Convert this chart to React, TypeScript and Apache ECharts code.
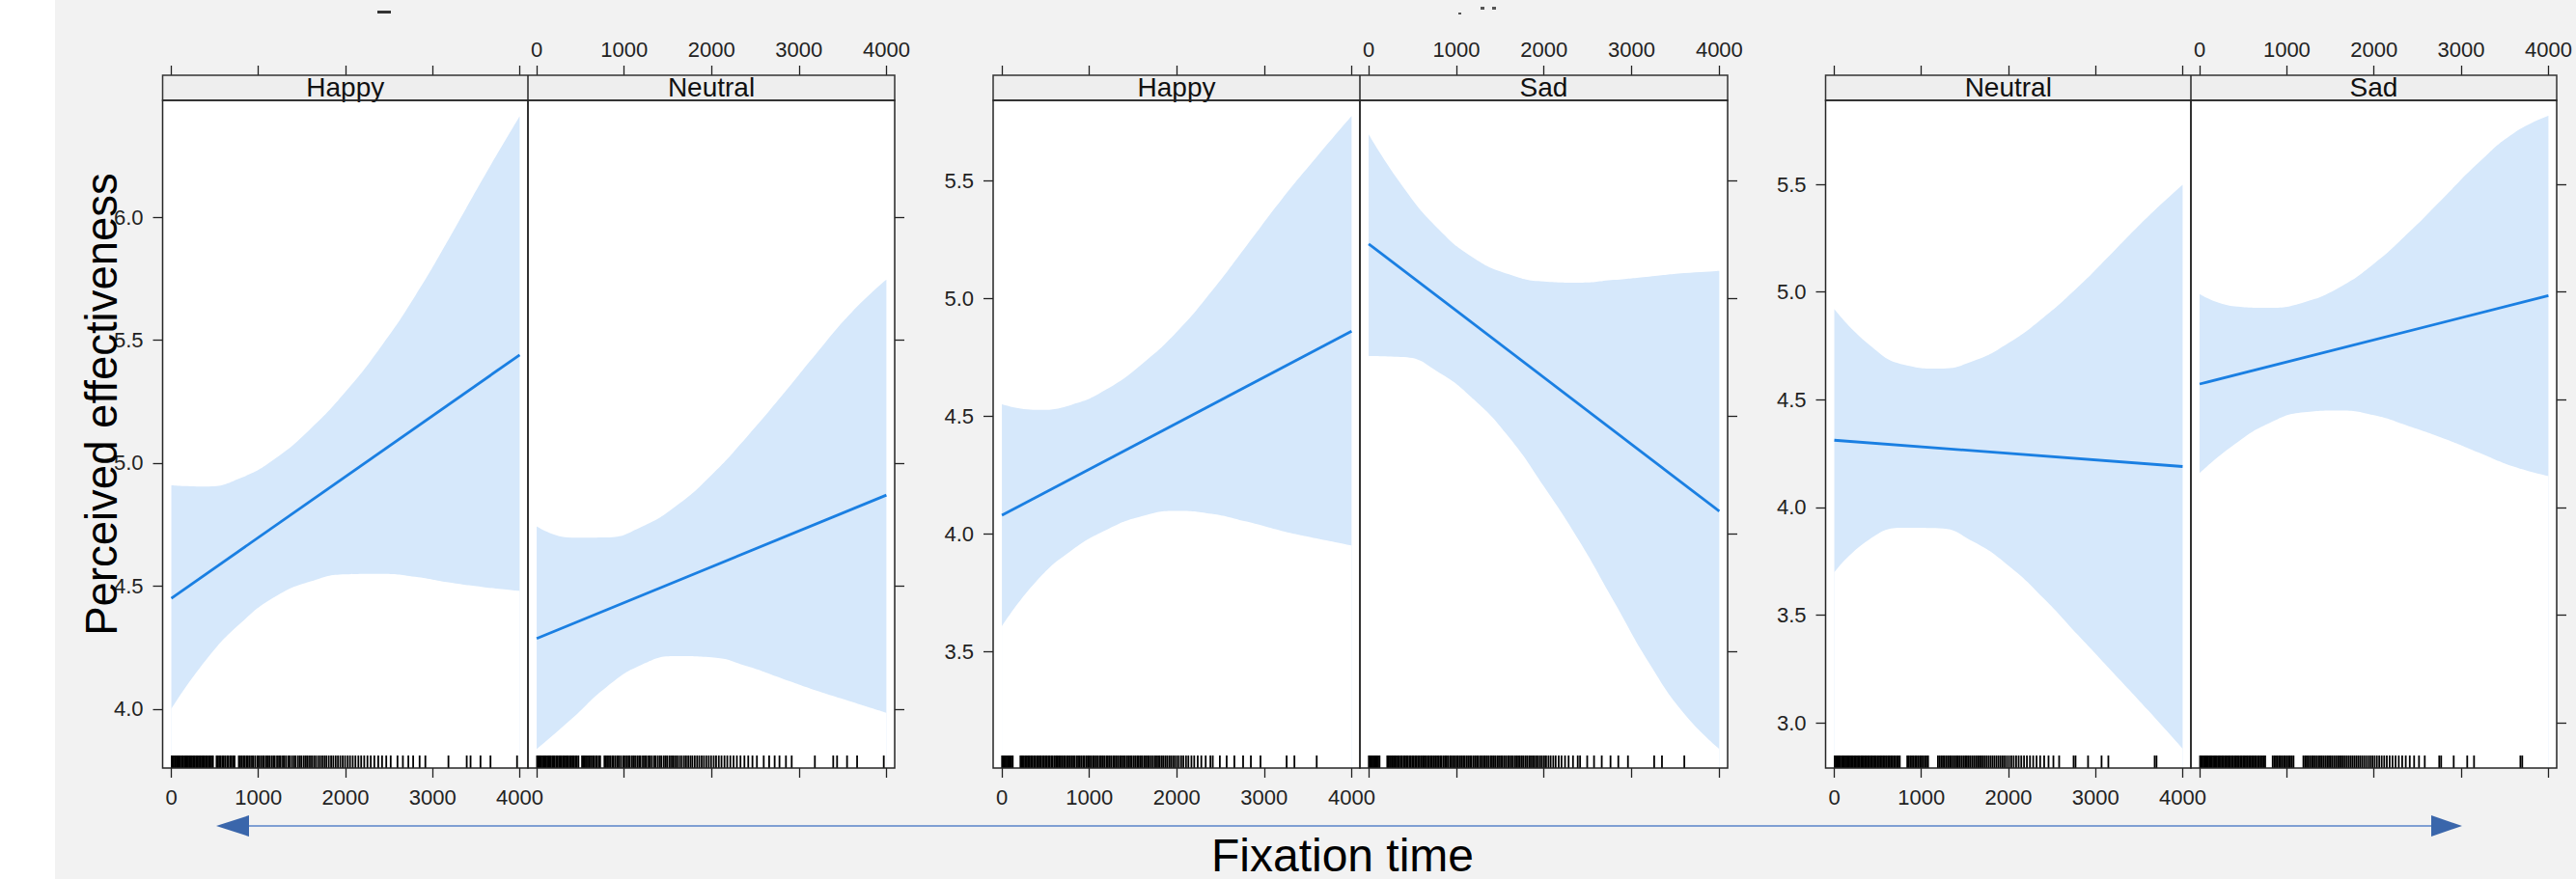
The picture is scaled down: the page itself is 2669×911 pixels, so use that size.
import React, { useEffect, useRef } from "react";
import * as echarts from "echarts";

// ---------------- data ----------------
const X_TICKS = [0, 1000, 2000, 3000, 4000];
const X_GRID = [0, 400, 800, 1200, 1600, 2000, 2400, 2800, 3200, 3600, 4000];
const X_FIT = [0, 4000];

const P1_Y_TICKS = [4.0, 4.5, 5.0, 5.5, 6.0];
const P2_Y_TICKS = [3.5, 4.0, 4.5, 5.0, 5.5];
const P3_Y_TICKS = [3.0, 3.5, 4.0, 4.5, 5.0, 5.5];

// Panel 1 : Happy / Neutral
const P1_HAPPY_FIT = [4.45, 5.44];
const P1_HAPPY_UPPER = [4.91, 4.905, 4.94, 5.02, 5.14, 5.29, 5.47, 5.68, 5.92, 6.17, 6.41];
const P1_HAPPY_LOWER = [4.0, 4.2, 4.35, 4.458, 4.519, 4.548, 4.55, 4.538, 4.514, 4.495, 4.48];
const P1_NEUTRAL_FIT = [4.287, 4.87];
const P1_NEUTRAL_UPPER = [4.743, 4.697, 4.698, 4.741, 4.827, 4.952, 5.105, 5.272, 5.446, 5.612, 5.746];
const P1_NEUTRAL_LOWER = [3.837, 3.96, 4.09, 4.18, 4.215, 4.21, 4.175, 4.125, 4.075, 4.03, 3.985];

// Panel 2 : Happy / Sad
const P2_HAPPY_FIT = [4.078, 4.86];
const P2_HAPPY_UPPER = [4.55, 4.526, 4.548, 4.614, 4.72, 4.857, 5.03, 5.224, 5.42, 5.6, 5.774];
const P2_HAPPY_LOWER = [3.606, 3.8, 3.93, 4.017, 4.074, 4.097, 4.084, 4.051, 4.012, 3.98, 3.95];
const P2_SAD_FIT = [5.231, 4.095];
const P2_SAD_UPPER = [5.696, 5.469, 5.293, 5.171, 5.102, 5.071, 5.066, 5.078, 5.092, 5.107, 5.116];
const P2_SAD_LOWER = [4.755, 4.75, 4.685, 4.57, 4.41, 4.2, 3.97, 3.71, 3.45, 3.235, 3.085];

// Panel 3 : Neutral / Sad
const P3_NEUTRAL_FIT = [4.312, 4.19];
const P3_NEUTRAL_UPPER = [4.921, 4.756, 4.663, 4.645, 4.68, 4.763, 4.881, 5.024, 5.186, 5.349, 5.498];
const P3_NEUTRAL_LOWER = [3.699, 3.851, 3.905, 3.903, 3.84, 3.73, 3.58, 3.407, 3.234, 3.06, 2.88];
const P3_SAD_FIT = [4.573, 4.983];
const P3_SAD_UPPER = [4.991, 4.934, 4.927, 4.953, 5.021, 5.132, 5.277, 5.439, 5.601, 5.737, 5.818];
const P3_SAD_LOWER = [4.16, 4.293, 4.392, 4.442, 4.45, 4.428, 4.377, 4.32, 4.255, 4.19, 4.146];

// rug (fixation times)
const P1_RUG = [4, 15, 27, 41, 50, 66, 79, 93, 104, 121, 133, 150, 162, 179, 193, 207, 226, 238, 255, 268, 284, 301, 316, 331, 349, 362, 380, 396, 411, 428, 446, 460, 478, 519, 532, 549, 563, 584, 600, 618, 640, 655, 676, 691, 712, 726, 775, 790, 806, 827, 845, 866, 880, 902, 925, 941, 963, 988, 1004, 1027, 1049, 1066, 1090, 1107, 1126, 1150, 1171, 1188, 1214, 1236, 1255, 1280, 1298, 1319, 1345, 1362, 1387, 1410, 1428, 1455, 1477, 1496, 1522, 1545, 1566, 1590, 1613, 1638, 1660, 1686, 1709, 1734, 1759, 1781, 1808, 1835, 1860, 1887, 1913, 1940, 1968, 1995, 2025, 2052, 2083, 2114, 2148, 2180, 2215, 2252, 2290, 2331, 2376, 2420, 2468, 2519, 2597, 2659, 2722, 2777, 2851, 2917, 3182, 3392, 3436, 3550, 3665, 3970];
const P2_RUG = [2, 14, 31, 43, 55, 71, 82, 97, 109, 124, 212, 224, 241, 253, 273, 286, 302, 318, 335, 349, 367, 380, 399, 415, 431, 447, 466, 480, 498, 514, 532, 548, 567, 582, 603, 619, 637, 652, 672, 690, 708, 725, 745, 761, 781, 799, 817, 833, 855, 872, 890, 908, 929, 945, 966, 983, 1003, 1021, 1041, 1058, 1079, 1097, 1118, 1136, 1156, 1173, 1195, 1213, 1233, 1251, 1273, 1290, 1311, 1330, 1350, 1368, 1390, 1408, 1429, 1447, 1468, 1486, 1508, 1526, 1547, 1566, 1588, 1605, 1627, 1645, 1667, 1685, 1706, 1726, 1748, 1766, 1788, 1807, 1830, 1849, 1871, 1891, 1914, 1934, 1957, 1978, 2002, 2024, 2051, 2076, 2106, 2133, 2168, 2200, 2240, 2281, 2331, 2385, 2412, 2493, 2571, 2659, 2759, 2848, 2958, 3257, 3346, 3601];
const P3_RUG = [5, 17, 29, 44, 56, 69, 85, 98, 112, 127, 139, 155, 170, 183, 198, 214, 229, 243, 260, 274, 290, 306, 321, 337, 352, 369, 384, 401, 417, 432, 449, 466, 481, 499, 515, 531, 548, 565, 581, 598, 616, 632, 649, 667, 684, 701, 719, 736, 752, 838, 856, 874, 892, 910, 928, 946, 965, 983, 1002, 1020, 1039, 1058, 1077, 1190, 1209, 1228, 1247, 1266, 1286, 1305, 1325, 1344, 1364, 1383, 1403, 1423, 1443, 1463, 1483, 1503, 1523, 1544, 1564, 1585, 1605, 1626, 1647, 1668, 1689, 1710, 1731, 1752, 1774, 1796, 1818, 1840, 1863, 1886, 1909, 1933, 1957, 1982, 2007, 2033, 2060, 2088, 2117, 2147, 2179, 2212, 2247, 2284, 2323, 2364, 2410, 2460, 2516, 2582, 2748, 2770, 2914, 3069, 3147, 3679, 3700];

// ---------------- layout & style ----------------
const FONT = "'Liberation Sans', Arial, sans-serif";
const BAND = "#d6e8fb";
const LINE = "#1a7fe2";
const INK = "#222222";
const PANEL_TOP = 104;
const PANEL_H = 692;
const STRIP_TOP = 78;
const X_MIN = -100;
const X_MAX = 4095;
const SMOOTH = 0.5;

const SUBPANELS = [
  { name: "Happy", left: 168.5, width: 378.5, side: "left", yMin: 3.76, yMax: 6.475, yTicks: P1_Y_TICKS, fit: P1_HAPPY_FIT, upper: P1_HAPPY_UPPER, lower: P1_HAPPY_LOWER, rug: P1_RUG },
  { name: "Neutral", left: 547, width: 380, side: "right", yMin: 3.76, yMax: 6.475, yTicks: P1_Y_TICKS, fit: P1_NEUTRAL_FIT, upper: P1_NEUTRAL_UPPER, lower: P1_NEUTRAL_LOWER, rug: P1_RUG },
  { name: "Happy", left: 1029, width: 380, side: "left", yMin: 3.004, yMax: 5.841, yTicks: P2_Y_TICKS, fit: P2_HAPPY_FIT, upper: P2_HAPPY_UPPER, lower: P2_HAPPY_LOWER, rug: P2_RUG },
  { name: "Sad", left: 1409, width: 381, side: "right", yMin: 3.004, yMax: 5.841, yTicks: P2_Y_TICKS, fit: P2_SAD_FIT, upper: P2_SAD_UPPER, lower: P2_SAD_LOWER, rug: P2_RUG },
  { name: "Neutral", left: 1891.5, width: 378.5, side: "left", yMin: 2.79, yMax: 5.89, yTicks: P3_Y_TICKS, fit: P3_NEUTRAL_FIT, upper: P3_NEUTRAL_UPPER, lower: P3_NEUTRAL_LOWER, rug: P3_RUG },
  { name: "Sad", left: 2270, width: 379, side: "right", yMin: 2.79, yMax: 5.89, yTicks: P3_Y_TICKS, fit: P3_SAD_FIT, upper: P3_SAD_UPPER, lower: P3_SAD_LOWER, rug: P3_RUG },
];

function buildOption() {
  const grid: any[] = [];
  const xAxis: any[] = [];
  const yAxis: any[] = [];
  const series: any[] = [];
  const graphic: any[] = [];

  const tickStyle = { color: INK, width: 1.3 };
  const labelStyle = { fontSize: 22, color: INK, fontFamily: FONT };

  SUBPANELS.forEach((p, i) => {
    const isLeft = p.side === "left";
    grid.push({
      left: p.left,
      top: PANEL_TOP,
      width: p.width,
      height: PANEL_H,
      show: true,
      backgroundColor: "#ffffff",
      borderWidth: 0,
    });
    xAxis.push({
      type: "value",
      gridIndex: i,
      position: "bottom",
      min: X_MIN,
      max: X_MAX,
      axisLine: { show: false, onZero: false },
      splitLine: { show: false },
      axisTick: { show: true, inside: false, length: 10, customValues: X_TICKS, lineStyle: tickStyle },
      axisLabel: { show: isLeft, customValues: X_TICKS, margin: 19, formatter: (v: number) => String(v), ...labelStyle },
    });
    xAxis.push({
      type: "value",
      gridIndex: i,
      position: "top",
      offset: PANEL_TOP - STRIP_TOP,
      min: X_MIN,
      max: X_MAX,
      axisLine: { show: false, onZero: false },
      splitLine: { show: false },
      axisTick: { show: true, inside: false, length: 10, customValues: X_TICKS, lineStyle: tickStyle },
      axisLabel: { show: !isLeft, customValues: X_TICKS, margin: 16, formatter: (v: number) => String(v), ...labelStyle },
    });
    yAxis.push({
      type: "value",
      gridIndex: i,
      position: p.side,
      min: p.yMin,
      max: p.yMax,
      axisLine: { show: false, onZero: false },
      splitLine: { show: false },
      axisTick: { show: true, inside: false, length: 10, customValues: p.yTicks, lineStyle: tickStyle },
      axisLabel: { show: isLeft, customValues: p.yTicks, margin: 20, formatter: (v: number) => v.toFixed(1), ...labelStyle },
    });

    const xIdx = i * 2;
    // confidence band: upper edge filled down to the axis start...
    series.push({
      type: "line",
      xAxisIndex: xIdx,
      yAxisIndex: i,
      smooth: SMOOTH,
      symbol: "none",
      silent: true,
      lineStyle: { opacity: 0 },
      areaStyle: { color: BAND, opacity: 1, origin: "start" },
      data: X_GRID.map((x, k) => [x, p.upper[k]]),
      z: 1,
    });
    // ...and white below the lower edge
    series.push({
      type: "line",
      xAxisIndex: xIdx,
      yAxisIndex: i,
      smooth: SMOOTH,
      symbol: "none",
      silent: true,
      lineStyle: { opacity: 0 },
      areaStyle: { color: "#ffffff", opacity: 1, origin: "start" },
      data: X_GRID.map((x, k) => [x, p.lower[k]]),
      z: 1,
    });
    series.push({
      type: "line",
      xAxisIndex: xIdx,
      yAxisIndex: i,
      symbol: "none",
      silent: true,
      lineStyle: { color: LINE, width: 2.8 },
      data: X_FIT.map((x, k) => [x, p.fit[k]]),
      z: 4,
    });
    const yMin = p.yMin;
    series.push({
      type: "custom",
      xAxisIndex: xIdx,
      yAxisIndex: i,
      silent: true,
      encode: { x: 0, y: 1 },
      data: p.rug.map((v) => [v, yMin]),
      renderItem: (params: any, api: any) => {
        const pt = api.coord([api.value(0), api.value(1)]);
        return {
          type: "line",
          shape: { x1: pt[0], y1: pt[1], x2: pt[0], y2: pt[1] - 13 },
          style: { stroke: "#000000", lineWidth: 1.8 },
        };
      },
      z: 3,
    });

    graphic.push({
      type: "rect",
      shape: { x: p.left, y: PANEL_TOP, width: p.width, height: PANEL_H },
      style: { fill: "none", stroke: "#262626", lineWidth: 1.5 },
      z: 15,
    });
  });

  // strips
  for (let k = 0; k < SUBPANELS.length; k += 2) {
    const a = SUBPANELS[k];
    const b = SUBPANELS[k + 1];
    const total = b.left + b.width - a.left;
    graphic.push({
      type: "rect",
      shape: { x: a.left, y: STRIP_TOP, width: total, height: PANEL_TOP - STRIP_TOP },
      style: { fill: "#eeeeee", stroke: "#333333", lineWidth: 1.5 },
      z: 10,
    });
    graphic.push({
      type: "line",
      shape: { x1: b.left, y1: STRIP_TOP, x2: b.left, y2: PANEL_TOP },
      style: { stroke: "#262626", lineWidth: 1.5 },
      z: 11,
    });
    [a, b].forEach((p) => {
      graphic.push({
        type: "text",
        x: p.left + p.width / 2,
        y: 90.5,
        style: { text: p.name, fontSize: 28, fontFamily: FONT, fill: "#111111", align: "center", verticalAlign: "middle" },
        z: 12,
      });
    });
  }

  graphic.push({
    type: "text",
    x: 105.5,
    y: 419,
    rotation: Math.PI / 2,
    style: { text: "Perceived effectiveness", fontSize: 45.5, fontFamily: FONT, fill: "#000000", align: "center", verticalAlign: "middle" },
    z: 20,
  });
  graphic.push({
    type: "text",
    x: 1391,
    y: 886,
    style: { text: "Fixation time", fontSize: 48, fontFamily: FONT, fill: "#000000", align: "center", verticalAlign: "middle" },
    z: 20,
  });
  graphic.push({
    type: "line",
    shape: { x1: 250, y1: 856, x2: 2525, y2: 856 },
    style: { stroke: "#7f9fd3", lineWidth: 2 },
    z: 20,
  });
  graphic.push({
    type: "polygon",
    shape: { points: [[224, 856], [258, 845], [258, 867]] },
    style: { fill: "#3a66ab" },
    z: 21,
  });
  graphic.push({
    type: "polygon",
    shape: { points: [[2551, 856], [2519, 845], [2519, 867]] },
    style: { fill: "#3a66ab" },
    z: 21,
  });
  graphic.push({ type: "rect", shape: { x: 391, y: 11, width: 14, height: 3 }, style: { fill: "#333333" }, z: 20 });
  graphic.push({ type: "rect", shape: { x: 1511, y: 13, width: 3, height: 2 }, style: { fill: "#555555" }, z: 20 });
  graphic.push({ type: "rect", shape: { x: 1534, y: 7, width: 4, height: 3 }, style: { fill: "#555555" }, z: 20 });
  graphic.push({ type: "rect", shape: { x: 1546, y: 7, width: 4, height: 3 }, style: { fill: "#555555" }, z: 20 });

  return {
    animation: false,
    backgroundColor: "transparent",
    textStyle: { fontFamily: FONT },
    grid,
    xAxis,
    yAxis,
    series,
    graphic,
  };
}

export default function App() {
  const ref = useRef<HTMLDivElement>(null);
  useEffect(() => {
    if (!ref.current) return;
    const chart = echarts.init(ref.current, undefined, { renderer: "svg" });
    chart.setOption(buildOption() as any);
    return () => chart.dispose();
  }, []);
  return (
    <div
      ref={ref}
      style={{
        position: "fixed",
        left: 0,
        top: 0,
        width: 2669,
        height: 911,
        background: "linear-gradient(to right, #ffffff 0px, #ffffff 57px, #f2f2f2 57px)",
      }}
    />
  );
}
